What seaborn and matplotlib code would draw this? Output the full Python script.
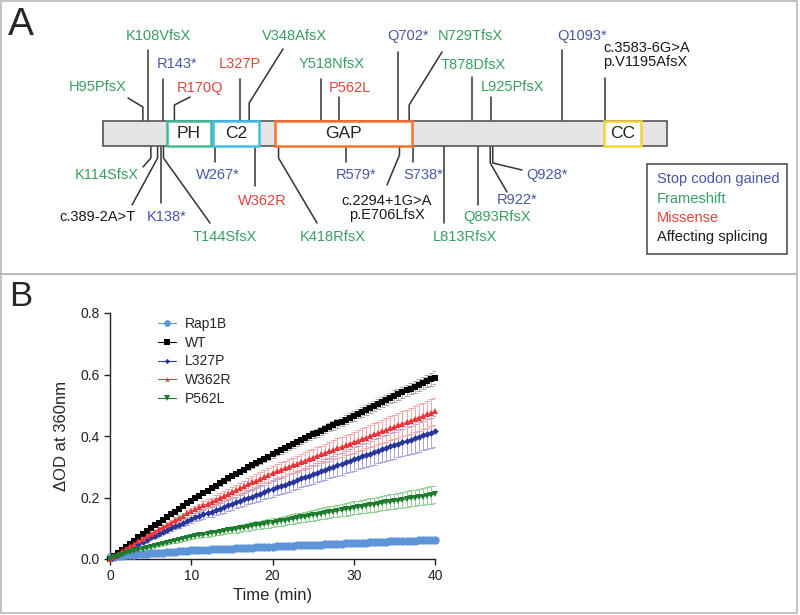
import numpy as np
import pandas as pd
import seaborn as sns
import matplotlib.pyplot as plt
from matplotlib.patches import Rectangle

# ---------------- Panel A: protein schematic ----------------
protein_len = 1343
domain_names = ["PH", "C2", "GAP", "CC"]
domain_start = [152, 262, 410, 1193]
domain_end = [257, 371, 736, 1281]
domain_colors = ["#45b89c", "#3fc0e6", "#f2722e", "#f0d23a"]

mut_labels = ["H95PfsX", "K108VfsX", "R143*", "R170Q", "L327P", "V348AfsX",
              "Y518NfsX", "P562L", "Q702*", "N729TfsX", "T878DfsX", "L925PfsX",
              "Q1093*", "c.3583-6G>A\np.V1195AfsX",
              "K114SfsX", "c.389-2A>T", "K138*", "T144SfsX", "W267*", "W362R",
              "K418RfsX", "R579*", "c.2294+1G>A\np.E706LfsX", "S738*",
              "L813RfsX", "Q893RfsX", "R922*", "Q928*"]
mut_res = [95, 108, 143, 170, 327, 348, 518, 562, 702, 729, 878, 925, 1093, 1195,
           114, 130, 138, 144, 267, 362, 418, 579, 706, 738, 813, 893, 922, 928]
mut_type = ["fs", "fs", "stop", "mis", "mis", "fs", "fs", "mis", "stop", "fs", "fs", "fs",
            "stop", "spl",
            "fs", "spl", "stop", "fs", "stop", "mis", "fs", "stop", "spl", "stop",
            "fs", "fs", "stop", "stop"]

legend_a = ["Stop codon gained", "Frameshift", "Missense", "Affecting splicing"]
legend_a_types = ["stop", "fs", "mis", "spl"]
type_colors = {"stop": "#4a56a8", "fs": "#3a9e62", "mis": "#e2443c", "spl": "#1a1a1a"}

# layout (pixels): label x, label y, elbow y (None = straight), leader end x, leader end y
mut_layout = [
    (98, 87, 107, 128, 98), (158, 36, None, None, 50), (177, 64, None, None, 79),
    (200, 88, 105, 190, 97), (240, 64, None, None, 79), (295, 36, 103, 283, 49),
    (332, 64, None, None, 79), (350, 88, None, None, 97), (408, 36, None, None, 52),
    (470, 36, 105, 442, 52), (473, 65, None, None, 77), (513, 87, None, None, 97),
    (582, 36, None, None, 50), (603, 55, None, None, 78),
    (107, 175, 158, 143, 167), (97, 217, 158, 132, 205), (167, 217, None, None, 203),
    (225, 237, 158, 210, 223), (218, 175, None, None, 162), (262, 201, None, None, 186),
    (333, 237, 158, 317, 223), (356, 175, None, None, 162), (387, 208, 155, 387, 185),
    (423, 175, None, None, 162), (465, 237, None, None, 223), (497, 217, None, None, 205),
    (517, 200, 163, 507, 192), (547, 175, 163, 522, 170),
]

# ---------------- Panel B: GAP assay time course ----------------
time_min = np.arange(0, 40.5, 0.5)
series_names = ["Rap1B", "WT", "L327P", "W362R", "P562L"]

rap1b = [0.005, 0.007, 0.009, 0.010, 0.012, 0.013, 0.014, 0.015, 0.016, 0.017,
         0.018, 0.019, 0.020, 0.021, 0.022, 0.023, 0.024, 0.025, 0.026, 0.027,
         0.028, 0.029, 0.029, 0.030, 0.030, 0.031, 0.032, 0.032, 0.033, 0.034,
         0.034, 0.035, 0.035, 0.036, 0.037, 0.037, 0.038, 0.038, 0.039, 0.040,
         0.040, 0.041, 0.041, 0.042, 0.042, 0.043, 0.044, 0.044, 0.045, 0.045,
         0.046, 0.046, 0.047, 0.048, 0.048, 0.049, 0.049, 0.050, 0.051, 0.051,
         0.052, 0.052, 0.053, 0.053, 0.054, 0.055, 0.055, 0.056, 0.056, 0.057,
         0.057, 0.058, 0.059, 0.059, 0.060, 0.060, 0.061, 0.061, 0.062, 0.062,
         0.063]
wt = [0.000, 0.010, 0.020, 0.030, 0.040, 0.050, 0.060, 0.070, 0.080, 0.090,
      0.100, 0.109, 0.118, 0.127, 0.136, 0.145, 0.154, 0.163, 0.172, 0.181,
      0.190, 0.198, 0.206, 0.214, 0.222, 0.230, 0.238, 0.246, 0.254, 0.262,
      0.270, 0.277, 0.284, 0.291, 0.298, 0.305, 0.312, 0.319, 0.326, 0.333,
      0.340, 0.347, 0.353, 0.360, 0.366, 0.373, 0.379, 0.386, 0.392, 0.399,
      0.405, 0.411, 0.417, 0.423, 0.429, 0.435, 0.441, 0.447, 0.453, 0.459,
      0.465, 0.472, 0.478, 0.485, 0.491, 0.498, 0.504, 0.511, 0.517, 0.524,
      0.530, 0.536, 0.542, 0.548, 0.554, 0.560, 0.566, 0.572, 0.578, 0.584,
      0.590]
l327p = [0.000, 0.007, 0.014, 0.021, 0.028, 0.035, 0.042, 0.049, 0.056, 0.063,
         0.070, 0.076, 0.082, 0.088, 0.094, 0.100, 0.106, 0.112, 0.118, 0.124,
         0.130, 0.135, 0.140, 0.145, 0.150, 0.154, 0.159, 0.164, 0.169, 0.174,
         0.179, 0.184, 0.189, 0.194, 0.199, 0.203, 0.208, 0.213, 0.218, 0.223,
         0.228, 0.233, 0.238, 0.242, 0.247, 0.252, 0.257, 0.262, 0.267, 0.271,
         0.276, 0.281, 0.286, 0.291, 0.296, 0.300, 0.305, 0.310, 0.315, 0.320,
         0.325, 0.330, 0.334, 0.339, 0.343, 0.348, 0.352, 0.357, 0.361, 0.366,
         0.370, 0.375, 0.379, 0.384, 0.388, 0.393, 0.397, 0.402, 0.406, 0.411,
         0.415]
w362r = [0.000, 0.008, 0.016, 0.025, 0.033, 0.041, 0.049, 0.057, 0.066, 0.074,
         0.082, 0.089, 0.096, 0.104, 0.111, 0.118, 0.126, 0.133, 0.140, 0.148,
         0.155, 0.161, 0.168, 0.174, 0.180, 0.186, 0.193, 0.199, 0.205, 0.211,
         0.218, 0.224, 0.230, 0.236, 0.243, 0.249, 0.255, 0.261, 0.268, 0.274,
         0.280, 0.285, 0.290, 0.295, 0.300, 0.305, 0.310, 0.315, 0.320, 0.325,
         0.330, 0.335, 0.340, 0.345, 0.350, 0.355, 0.360, 0.365, 0.370, 0.375,
         0.380, 0.385, 0.390, 0.395, 0.400, 0.405, 0.410, 0.415, 0.420, 0.425,
         0.430, 0.435, 0.440, 0.445, 0.450, 0.455, 0.460, 0.465, 0.470, 0.475,
         0.480]
p562l = [0.000, 0.005, 0.009, 0.014, 0.018, 0.022, 0.025, 0.029, 0.033, 0.036,
         0.040, 0.043, 0.046, 0.050, 0.053, 0.056, 0.059, 0.062, 0.066, 0.069,
         0.072, 0.074, 0.077, 0.079, 0.081, 0.084, 0.086, 0.088, 0.090, 0.093,
         0.095, 0.097, 0.100, 0.102, 0.104, 0.107, 0.109, 0.111, 0.113, 0.116,
         0.118, 0.120, 0.123, 0.125, 0.128, 0.130, 0.132, 0.135, 0.137, 0.140,
         0.142, 0.144, 0.147, 0.149, 0.152, 0.154, 0.156, 0.159, 0.161, 0.164,
         0.166, 0.168, 0.170, 0.173, 0.175, 0.177, 0.179, 0.181, 0.184, 0.186,
         0.188, 0.190, 0.192, 0.195, 0.197, 0.199, 0.201, 0.203, 0.206, 0.208,
         0.210]

wt_err = [0.000, 0.000, 0.001, 0.001, 0.001, 0.001, 0.002, 0.002, 0.002, 0.002,
          0.003, 0.003, 0.003, 0.003, 0.004, 0.004, 0.004, 0.004, 0.005, 0.005,
          0.005, 0.005, 0.006, 0.006, 0.006, 0.006, 0.007, 0.007, 0.007, 0.007,
          0.008, 0.008, 0.008, 0.008, 0.009, 0.009, 0.009, 0.009, 0.010, 0.010,
          0.010, 0.010, 0.011, 0.011, 0.011, 0.011, 0.012, 0.012, 0.012, 0.012,
          0.013, 0.013, 0.013, 0.013, 0.014, 0.014, 0.014, 0.014, 0.015, 0.015,
          0.015, 0.015, 0.016, 0.016, 0.016, 0.016, 0.017, 0.017, 0.017, 0.017,
          0.018, 0.018, 0.018, 0.018, 0.019, 0.019, 0.019, 0.019, 0.020, 0.020,
          0.020]
l327p_err = [0.000, 0.001, 0.001, 0.002, 0.003, 0.003, 0.004, 0.004, 0.005, 0.006,
             0.006, 0.007, 0.008, 0.008, 0.009, 0.009, 0.010, 0.011, 0.011, 0.012,
             0.013, 0.013, 0.014, 0.014, 0.015, 0.016, 0.016, 0.017, 0.018, 0.018,
             0.019, 0.019, 0.020, 0.021, 0.021, 0.022, 0.023, 0.023, 0.024, 0.024,
             0.025, 0.026, 0.026, 0.027, 0.028, 0.028, 0.029, 0.029, 0.030, 0.031,
             0.031, 0.032, 0.033, 0.033, 0.034, 0.034, 0.035, 0.036, 0.036, 0.037,
             0.038, 0.038, 0.039, 0.039, 0.040, 0.041, 0.041, 0.042, 0.043, 0.043,
             0.044, 0.044, 0.045, 0.046, 0.046, 0.047, 0.048, 0.048, 0.049, 0.049,
             0.050]
w362r_err = [0.000, 0.001, 0.001, 0.002, 0.002, 0.003, 0.003, 0.004, 0.005, 0.005,
             0.006, 0.006, 0.007, 0.007, 0.008, 0.008, 0.009, 0.010, 0.010, 0.011,
             0.011, 0.012, 0.012, 0.013, 0.014, 0.014, 0.015, 0.015, 0.016, 0.016,
             0.017, 0.017, 0.018, 0.019, 0.019, 0.020, 0.020, 0.021, 0.021, 0.022,
             0.023, 0.023, 0.024, 0.024, 0.025, 0.025, 0.026, 0.026, 0.027, 0.028,
             0.028, 0.029, 0.029, 0.030, 0.030, 0.031, 0.032, 0.032, 0.033, 0.033,
             0.034, 0.034, 0.035, 0.035, 0.036, 0.037, 0.037, 0.038, 0.038, 0.039,
             0.039, 0.040, 0.041, 0.041, 0.042, 0.042, 0.043, 0.043, 0.044, 0.044,
             0.045]
p562l_err = [0.000, 0.000, 0.001, 0.001, 0.001, 0.002, 0.002, 0.002, 0.003, 0.003,
             0.004, 0.004, 0.004, 0.005, 0.005, 0.005, 0.006, 0.006, 0.006, 0.007,
             0.007, 0.007, 0.008, 0.008, 0.008, 0.009, 0.009, 0.009, 0.010, 0.010,
             0.011, 0.011, 0.011, 0.012, 0.012, 0.012, 0.013, 0.013, 0.013, 0.014,
             0.014, 0.014, 0.015, 0.015, 0.015, 0.016, 0.016, 0.016, 0.017, 0.017,
             0.018, 0.018, 0.018, 0.019, 0.019, 0.019, 0.020, 0.020, 0.020, 0.021,
             0.021, 0.021, 0.022, 0.022, 0.022, 0.023, 0.023, 0.023, 0.024, 0.024,
             0.025, 0.025, 0.025, 0.026, 0.026, 0.026, 0.027, 0.027, 0.027, 0.028,
             0.028]

series_vals = [rap1b, wt, l327p, w362r, p562l]
series_err = [None, wt_err, l327p_err, w362r_err, p562l_err]
series_colors = ["#5e95d8", "#000000", "#28369c", "#e8353a", "#1c7a2c"]
err_colors = ["#9fc0ea", "#a8a8a8", "#a9a6dc", "#f3a6a6", "#8fd08f"]
series_markers = ["o", "s", "D", "^", "v"]
series_msize = [6.0, 4.6, 3.4, 3.8, 4.6]

# ---------------- drawing ----------------
sns.set_style("ticks")
plt.rcParams["font.family"] = ["Liberation Sans", "DejaVu Sans"]

fig = plt.figure(figsize=(8, 6.15), dpi=100)
ov = fig.add_axes([0, 0, 1, 1])
ov.set_xlim(0, 800)
ov.set_ylim(615, 0)
ov.axis("off")

# panel frames and letters
ov.add_patch(Rectangle((1, 1), 796, 273, fill=False, ec="#b8b8b8", lw=1.2))
ov.add_patch(Rectangle((1, 274), 796, 339, fill=False, ec="#b8b8b8", lw=1.2))
ov.text(8, 25, "A", fontsize=28, va="center", ha="left")
ov.text(9, 296, "B", fontsize=25, va="center", ha="left")

bar_x0, bar_x1, bar_top, bar_bot = 103, 667, 121, 146


def res_px(r):
    return bar_x0 + r * (bar_x1 - bar_x0) / protein_len


ov.add_patch(Rectangle((bar_x0, bar_top), bar_x1 - bar_x0, bar_bot - bar_top,
                       fc="#e5e5e5", ec="#555555", lw=1.2, zorder=2))
for name, s, e, c in zip(domain_names, domain_start, domain_end, domain_colors):
    x0, x1 = res_px(s), res_px(e)
    ov.add_patch(Rectangle((x0, bar_top), x1 - x0, bar_bot - bar_top,
                           fc="white", ec=c, lw=1.8, zorder=3))
    ov.text((x0 + x1) / 2, (bar_top + bar_bot) / 2 + 0.5, name, fontsize=12.5,
            ha="center", va="center", color="#222222", zorder=4)

for lab, r, t, lay in zip(mut_labels, mut_res, mut_type, mut_layout):
    lx, ly, elbow, ex, ey = lay
    sx = res_px(r)
    base = bar_top if ly < bar_top else bar_bot
    if elbow is None:
        xs, ys = [sx, sx], [base, ey]
    else:
        xs, ys = [sx, sx, ex], [base, elbow, ey]
    ov.plot(xs, ys, color="#333333", lw=1.1, zorder=1)
    ha = "left" if lab.startswith("c.3583") else "center"
    ov.text(lx, ly, lab, fontsize=10.5, ha=ha, va="center", color=type_colors[t],
            linespacing=1.05)

ov.add_patch(Rectangle((647, 164), 140, 90, fill=False, ec="#444444", lw=1.1))
for i, (lab, t) in enumerate(zip(legend_a, legend_a_types)):
    ov.text(657, [179, 199, 218, 237][i], lab, fontsize=10.5, ha="left", va="center",
            color=type_colors[t])

# panel B axes
axB = fig.add_axes([110 / 800, 1 - 559 / 615, 325 / 800, 246 / 615])
for name, vals, err, c, ec, m, ms in zip(series_names, series_vals, series_err,
                                         series_colors, err_colors, series_markers,
                                         series_msize):
    if err is not None:
        axB.errorbar(time_min, vals, yerr=err, fmt="none", ecolor=ec, elinewidth=0.7,
                     capsize=2, capthick=0.7, zorder=1)
    sns.lineplot(x=time_min, y=vals, ax=axB, color=c, marker=m, markersize=ms,
                 markeredgewidth=0, linewidth=0.8, label=name, clip_on=False, zorder=3)

axB.set_xlim(0, 40)
axB.set_ylim(0, 0.8)
axB.set_xticks([0, 10, 20, 30, 40])
axB.set_yticks([0.0, 0.2, 0.4, 0.6, 0.8])
axB.set_yticklabels(["0.0", "0.2", "0.4", "0.6", "0.8"])
axB.tick_params(labelsize=10, length=4, width=1, colors="#222222")
axB.set_xlabel("Time (min)", fontsize=12, labelpad=3)
axB.set_ylabel("ΔOD at 360nm", fontsize=12, labelpad=8)
sns.despine(ax=axB)
for sp in ["left", "bottom"]:
    axB.spines[sp].set_linewidth(1)
    axB.spines[sp].set_color("#222222")
axB.patch.set_alpha(0)
axB.legend(loc="upper left", bbox_to_anchor=(0.148, 0.985), frameon=False, fontsize=10,
           handlelength=1.3, handletextpad=0.6, labelspacing=0.35, borderpad=0,
           borderaxespad=0, markerscale=0.8)

fig.savefig("out.png", dpi=100)
